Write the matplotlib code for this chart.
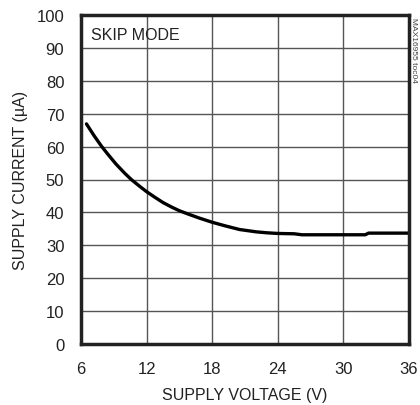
import matplotlib.pyplot as plt

plt.rcParams['font.family'] = ['Liberation Sans', 'DejaVu Sans']
plt.rcParams['font.stretch'] = 'condensed'

# supply voltage (V) vs supply current (uA), skip mode
voltage = [6.5, 7.2, 7.9, 8.5, 9.2, 10.0, 10.6, 11.3, 12.0, 12.8, 13.5, 14.3,
           15.0, 15.8, 16.8, 18.0, 19.2, 20.5, 22.0, 23.0, 24.0, 25.5, 26.2,
           28.0, 30.0, 32.0, 32.3, 34.0, 36.0]
current = [66.9, 63.3, 60.0, 57.5, 54.7, 51.9, 50.0, 48.1, 46.3, 44.5, 43.0,
           41.6, 40.5, 39.5, 38.3, 37.0, 35.9, 34.8, 34.1, 33.8, 33.6, 33.5,
           33.2, 33.2, 33.2, 33.2, 33.7, 33.7, 33.7]

xticks = [6, 12, 18, 24, 30, 36]
yticks = list(range(0, 101, 10))

fig = plt.figure(figsize=(4.2, 4.06), dpi=100)
ax = fig.add_axes([81 / 420, 1 - 345 / 406, 328 / 420, 329 / 406])

ax.plot(voltage, current, color='black', lw=2.4, solid_capstyle='round')

ax.set_xlim(6, 36)
ax.set_ylim(0, 100)
ax.set_xticks(xticks)
ax.set_yticks(yticks)
ax.grid(True, color='#555555', lw=1.0)
ax.set_axisbelow(True)
ax.tick_params(length=0, labelsize=12, colors='#222222', pad=12)
ax.tick_params(axis='y', pad=12)
for s in ax.spines.values():
    s.set_linewidth(2.5)
    s.set_color('#222222')

ax.set_xlabel('SUPPLY VOLTAGE (V)', fontsize=11.5, color='#222222', labelpad=8)
ax.set_ylabel('SUPPLY CURRENT (µA)', fontsize=11.5, color='#222222', labelpad=6)

ax.text(0.03, 0.965, 'SKIP MODE', transform=ax.transAxes, fontsize=11.5,
        color='#222222', va='top', ha='left')
fig.text(413 / 420, 1 - 18 / 406, 'MAX16955 toc04', rotation=270, fontsize=6,
         color='#444444', va='top', ha='center')

fig.savefig('out.png', dpi=100)
